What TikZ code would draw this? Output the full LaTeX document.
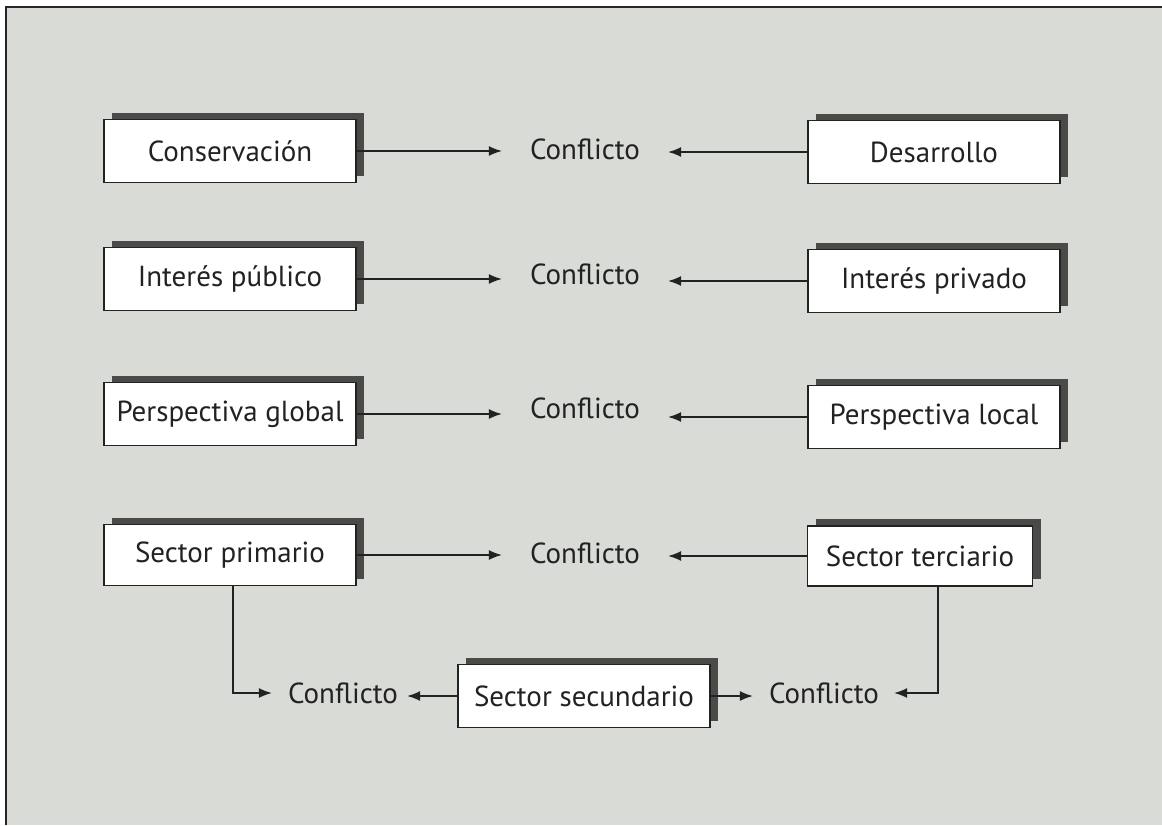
\documentclass[tikz,border=0pt]{standalone}
\usepackage{fontspec}
\setmainfont{PT Sans}
\usetikzlibrary{arrows.meta,shadows}
\definecolor{bgc}{HTML}{D9DBD6}
\definecolor{shad}{HTML}{4A4A48}
\definecolor{ink}{HTML}{222222}
\begin{document}
\begin{tikzpicture}[x=1pt,y=-1pt,
  box/.style={draw=ink,line width=1.4pt,fill=white,minimum width=252pt,minimum height=63pt,inner sep=0pt,
    font=\fontsize{29}{34}\selectfont,text=ink,
    copy shadow={shadow xshift=8pt,shadow yshift=7pt,fill=shad,draw=none}},
  conf/.style={font=\fontsize{29}{34}\selectfont,text=ink,inner ysep=0pt,inner xsep=28pt},
  confb/.style={font=\fontsize{29}{34}\selectfont,text=ink,inner ysep=0pt,inner xsep=0pt},
  arr/.style={draw=ink,line width=1.5pt,-{Latex[length=13pt,width=10pt]}}]
\useasboundingbox (0,0) rectangle (1162,825);
\fill[white] (0,0) rectangle (1162,825);
\fill[bgc] (6,7) rectangle (1162,825);
\draw[line width=1.5pt,black!85] (6,825) -- (6,7) -- (1162,7);
% row 1
\node[box] (a1) at (230,151) {Conservación};
\node[box] (b1) at (934,152) {Desarrollo};
\node[conf] (c1) at (585,149) {Conflicto};
% row 2
\node[box] (a2) at (230,279) {Interés público};
\node[box] (b2) at (934,281) {Interés privado};
\node[conf] (c2) at (585,274) {Conflicto};
% row 3
\node[box] (a3) at (230,414) {Perspectiva global};
\node[box] (b3) at (934,417) {Perspectiva local};
\node[conf] (c3) at (585,408) {Conflicto};
% row 4
\node[box,minimum height=61pt] (a4) at (230,555) {Sector primario};
\node[box,minimum width=225pt,minimum height=60pt] (b4) at (920,556) {Sector terciario};
\node[conf] (c4) at (585,553) {Conflicto};
% bottom
\node[box] (s) at (584,696) {Sector secundario};
\node[confb] (c5) at (343,693) {Conflicto};
\node[confb] (c6) at (824,693) {Conflicto};
% connectors
\draw[arr] (a1.east) -- (a1.east -| c1.west);
\draw[arr] (b1.west) -- (b1.west -| c1.east);
\draw[arr] (a2.east) -- (a2.east -| c2.west);
\draw[arr] (b2.west) -- (b2.west -| c2.east);
\draw[arr] (a3.east) -- (a3.east -| c3.west);
\draw[arr] (b3.west) -- (b3.west -| c3.east);
\draw[arr] (a4.east) -- (a4.east -| c4.west);
\draw[arr] (b4.west) -- (b4.west -| c4.east);
\draw[arr,shorten >=16pt] ([xshift=3pt]a4.south) |- (c5.west);
\draw[arr,shorten >=15pt] ([xshift=18pt]b4.south) |- (c6.east);
\draw[arr,shorten >=9pt] (s.west) -- (s.west -| c5.east);
\draw[arr,shorten >=16pt] (s.east) -- (s.east -| c6.west);
\end{tikzpicture}
\end{document}
